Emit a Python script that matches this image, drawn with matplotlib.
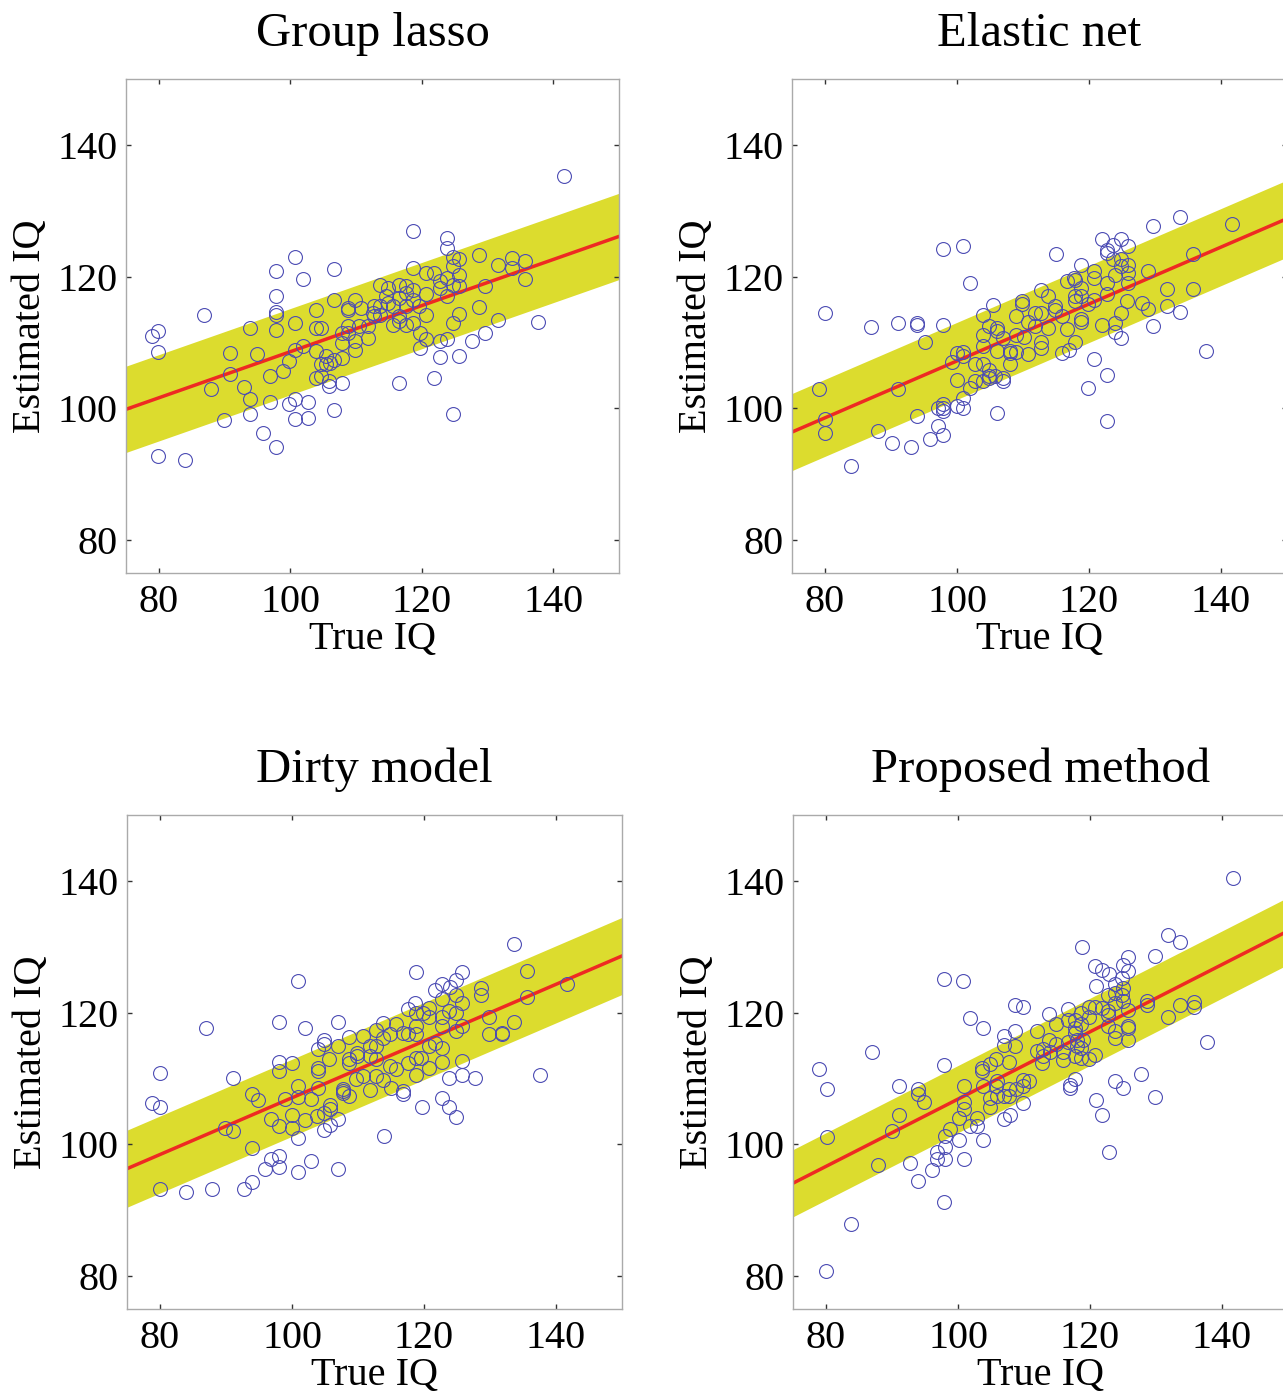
import matplotlib
matplotlib.use("Agg")
import matplotlib.pyplot as plt
import numpy as np

plt.rcParams['font.family'] = ['Liberation Serif', 'DejaVu Serif']

titles = ["Group lasso", "Elastic net", "Dirty model", "Proposed method"]

# regression line value at x=75 and x=150, band half width
line_start = [99.85, 96.4, 96.3, 94.1]
line_end = [126.1, 128.8, 128.6, 132.4]
band_half = [6.55, 5.85, 5.85, 5.1]

# --- Group lasso ---
gl_x = [141.6, 118.6, 123.8, 123.8, 124.7, 125.6, 128.7, 133.7, 135.7, 131.6, 133.7, 135.7, 137.7, 131.6,
        129.6, 127.6, 129.6, 128.7, 125.6, 124.7, 123.8, 122.7, 122.7, 125.6, 121.8, 124.7, 116.6, 119.8,
        120.6, 119.8, 120.6, 120.6, 118.6, 120.6, 121.8, 122.7, 123.8, 124.7, 125.6, 124.7, 125.6, 122.7,
        123.8, 116.6, 117.6, 118.6, 117.6, 116.6, 118.6, 117.6, 115.6, 116.6, 118.6, 117.6, 115.6, 116.6,
        119.6, 113.7, 114.8, 114.6, 114.8, 113.7, 112.8, 112.6, 113.6, 112.8, 111.8, 111.8, 109.8, 108.8,
        108.8, 110.8, 110.5, 108.8, 108.8, 107.8, 109.8, 109.8, 107.8, 107.8, 106.7, 106.7, 106.7, 106.7,
        107.9, 105.9, 105.9, 104.7, 103.9, 103.9, 103.9, 103.9, 104.7, 104.7, 105.5, 106.0, 105.5, 101.9,
        100.7, 97.8, 97.8, 97.8, 97.8, 97.8, 100.7, 101.9, 100.7, 99.8, 98.9, 96.9, 100.7, 99.8, 102.7,
        100.7, 102.7, 96.9, 97.8, 95.8, 94.9, 93.9, 90.8, 90.8, 92.9, 93.9, 93.9, 89.9, 87.9, 86.8, 79.0,
        79.9, 79.9, 79.9, 83.9]
gl_y = [135.2, 126.9, 125.8, 124.3, 122.9, 122.7, 123.3, 122.8, 122.3, 121.7, 121.3, 119.7, 113.1, 113.4,
        111.4, 110.2, 118.5, 115.4, 114.3, 113.0, 110.5, 110.2, 107.8, 108.0, 104.6, 99.2, 103.8, 109.1,
        110.5, 111.5, 114.1, 117.3, 121.3, 120.6, 120.6, 119.3, 119.8, 118.8, 120.3, 121.6, 118.5, 118.3,
        117.0, 118.8, 118.6, 118.0, 117.5, 116.8, 116.5, 115.5, 115.5, 114.0, 113.0, 112.7, 112.7, 113.2,
        115.5, 118.8, 118.3, 117.0, 116.0, 115.5, 115.5, 114.5, 114.2, 114.0, 112.5, 110.7, 116.5, 115.0,
        115.3, 115.3, 112.5, 112.5, 111.5, 111.5, 110.2, 108.9, 109.9, 107.7, 107.4, 116.5, 121.1, 99.8,
        103.8, 103.4, 104.1, 112.2, 112.2, 115.0, 108.7, 104.6, 104.9, 106.7, 107.9, 106.9, 106.7, 119.7,
        123.0, 120.8, 117.0, 114.7, 114.1, 111.9, 113.0, 109.4, 108.9, 107.2, 105.6, 104.9, 101.4, 100.6,
        100.9, 98.4, 98.6, 100.9, 94.2, 96.2, 108.2, 112.2, 108.4, 105.2, 103.3, 101.4, 99.1, 98.2, 102.9,
        114.1, 111.0, 111.8, 108.5, 92.8, 92.1]

# --- Elastic net ---
en_x = [80.0, 79.1, 80.0, 80.0, 84.0, 87.0, 88.1, 90.1, 91.0, 91.0, 93.0, 93.9, 93.9, 93.9, 95.1, 95.9,
        97.1, 97.1, 97.9, 97.9, 97.9, 97.9, 97.9, 97.9, 100.0, 100.9, 100.9, 100.0, 99.2, 100.0, 100.9,
        100.9, 100.9, 102.0, 102.0, 102.8, 102.8, 104.0, 104.0, 104.9, 104.9, 104.9, 105.8, 106.9, 106.9,
        106.0, 104.0, 104.0, 104.0, 104.9, 106.0, 106.0, 106.9, 106.0, 108.0, 108.0, 108.0, 108.9, 108.9,
        110.1, 110.8, 105.5, 108.9, 109.8, 109.8, 110.8, 111.8, 111.8, 112.8, 112.8, 113.8, 112.8, 112.8,
        113.8, 114.8, 114.8, 115.9, 115.9, 116.9, 116.6, 115.0, 116.6, 117.8, 117.9, 117.9, 117.9, 118.8,
        118.8, 118.8, 118.8, 119.8, 117.9, 120.8, 120.8, 120.8, 120.8, 118.8, 121.9, 122.7, 123.7, 124.8,
        122.7, 123.7, 124.8, 124.8, 125.9, 125.9, 125.9, 123.9, 122.7, 122.7, 125.7, 124.8, 123.9, 123.9,
        124.8, 121.9, 119.8, 122.7, 122.7, 125.9, 128.0, 129.0, 129.0, 129.7, 129.7, 131.8, 131.8, 133.8,
        133.8, 135.8, 135.8, 137.8, 141.6]
en_y = [114.5, 102.9, 98.4, 96.2, 91.2, 112.3, 96.6, 94.8, 113.0, 102.9, 94.2, 113.0, 112.7, 98.8, 110.1,
        95.3, 97.3, 100.1, 95.9, 124.2, 112.6, 100.6, 99.6, 100.1, 100.4, 100.1, 101.6, 104.3, 107.1, 108.4,
        108.5, 107.9, 124.6, 119.0, 103.1, 104.1, 106.7, 106.7, 104.1, 105.8, 104.9, 104.6, 104.9, 104.6,
        104.1, 99.3, 114.1, 111.2, 109.4, 112.5, 111.7, 112.2, 110.7, 108.7, 108.7, 108.4, 106.7, 108.5,
        111.2, 110.9, 108.3, 115.7, 114.0, 116.3, 115.8, 113.1, 114.4, 112.5, 118.0, 114.5, 117.1, 110.1,
        109.2, 112.2, 115.5, 115.0, 114.0, 108.4, 108.9, 112.1, 123.5, 119.4, 119.8, 119.5, 117.0, 116.3,
        118.3, 117.0, 113.5, 113.1, 115.8, 110.0, 120.8, 119.8, 116.5, 107.5, 121.7, 125.7, 124.1, 124.8,
        125.7, 123.6, 122.6, 122.6, 121.6, 121.8, 120.6, 119.0, 120.3, 119.0, 117.3, 116.3, 114.4, 113.0,
        111.6, 110.7, 112.7, 103.1, 105.1, 98.1, 124.6, 116.0, 120.8, 115.1, 127.7, 112.5, 118.1, 115.6,
        129.1, 114.7, 123.5, 118.1, 108.7, 128.0]

# --- Dirty model ---
dm_x = [133.6, 135.6, 135.6, 141.6, 128.7, 128.7, 129.8, 129.8, 131.8, 131.8, 133.6, 137.6, 118.8, 125.8,
        124.9, 122.8, 121.7, 123.9, 124.9, 122.8, 125.8, 123.8, 124.9, 122.8, 122.8, 125.8, 124.9, 118.6,
        117.5, 118.8, 119.8, 120.8, 120.8, 118.8, 116.8, 117.5, 118.8, 115.8, 113.8, 114.8, 113.8, 112.8,
        121.6, 120.8, 122.8, 119.6, 118.8, 120.8, 122.8, 125.8, 123.8, 125.8, 127.8, 117.5, 118.8, 115.8,
        114.8, 113.8, 115.0, 116.8, 116.8, 112.8, 112.8, 112.8, 122.8, 123.8, 124.9, 119.7, 113.9, 110.7,
        111.8, 111.8, 109.8, 109.8, 108.7, 108.7, 108.7, 110.7, 109.7, 111.8, 108.7, 107.8, 107.8, 107.8,
        106.9, 106.9, 105.6, 104.9, 104.9, 103.9, 103.9, 103.9, 103.9, 102.9, 100.9, 100.9, 101.9, 100.9,
        98.0, 98.0, 98.0, 100.0, 105.8, 105.8, 104.8, 105.8, 104.9, 106.9, 103.8, 101.9, 100.0, 98.9, 96.8,
        98.0, 100.0, 100.9, 94.0, 94.8, 91.0, 89.9, 91.0, 94.0, 98.0, 96.8, 95.9, 98.0, 100.9, 102.9, 106.9,
        94.0, 92.8, 87.9, 83.9, 80.0, 80.0, 78.8, 80.0, 87.0]
dm_y = [130.4, 126.3, 122.4, 124.4, 123.7, 122.6, 119.3, 116.7, 116.9, 116.7, 118.5, 110.5, 126.2, 126.2,
        125.0, 124.4, 123.5, 123.9, 122.7, 122.0, 121.5, 120.2, 120.0, 119.4, 117.9, 117.9, 117.2, 121.5,
        120.5, 120.0, 120.0, 120.7, 119.4, 118.0, 116.9, 116.7, 116.7, 118.2, 118.4, 116.7, 116.2, 117.4,
        115.4, 114.9, 114.6, 113.1, 113.1, 111.6, 112.5, 112.6, 110.0, 110.5, 110.0, 112.4, 110.5, 111.4,
        111.9, 109.8, 108.6, 108.1, 107.6, 110.3, 114.9, 112.9, 107.1, 105.7, 104.2, 105.7, 101.3, 116.4,
        114.9, 113.4, 113.9, 113.4, 116.3, 112.9, 112.4, 110.4, 109.9, 108.2, 107.3, 108.1, 107.8, 108.4,
        118.5, 114.9, 112.9, 115.9, 115.2, 114.4, 111.6, 111.1, 108.6, 106.9, 108.9, 107.2, 117.7, 124.8,
        118.5, 112.5, 111.1, 112.4, 106.0, 105.3, 104.8, 102.9, 102.2, 103.9, 104.3, 103.7, 104.5, 106.9,
        103.8, 102.8, 102.5, 101.0, 107.6, 106.7, 110.0, 102.5, 102.1, 99.5, 98.3, 97.7, 96.3, 96.6, 95.8,
        97.4, 96.3, 94.3, 93.2, 93.2, 92.8, 93.2, 110.9, 106.2, 105.7, 117.7]

# --- Proposed method ---
pm_x = [141.6, 131.8, 133.6, 129.9, 118.8, 125.8, 125.0, 125.8, 124.8, 120.8, 121.8, 122.9, 120.9, 123.8,
        125.0, 124.8, 123.8, 122.8, 123.8, 125.0, 128.7, 128.7, 133.6, 135.7, 135.7, 131.8, 137.7, 127.8,
        129.9, 125.8, 125.8, 125.8, 125.8, 123.8, 123.8, 122.8, 122.8, 122.8, 121.8, 120.8, 119.8, 118.7,
        119.8, 118.7, 117.7, 116.7, 116.7, 117.7, 117.7, 119.0, 118.0, 116.7, 118.0, 118.7, 117.7, 118.7,
        119.8, 120.8, 123.8, 125.0, 120.9, 121.8, 122.9, 117.7, 116.9, 116.9, 113.8, 114.8, 113.8, 114.9,
        115.9, 115.9, 112.9, 112.9, 111.9, 111.9, 113.9, 112.8, 108.7, 109.9, 108.7, 106.9, 106.9, 108.7,
        107.8, 105.8, 104.8, 103.7, 103.7, 105.9, 105.8, 109.9, 110.8, 109.8, 108.8, 107.8, 107.8, 106.9,
        105.9, 104.9, 104.9, 109.9, 107.9, 106.9, 103.8, 97.9, 100.8, 101.8, 103.8, 97.9, 100.9, 100.9,
        100.9, 100.1, 101.8, 102.9, 102.9, 98.8, 98.0, 100.1, 103.8, 98.0, 96.8, 96.8, 98.0, 100.9, 96.0,
        94.0, 92.8, 97.9, 83.8, 94.0, 94.0, 94.9, 91.0, 91.0, 90.0, 87.9, 87.0, 79.0, 80.1, 80.1, 80.0]
pm_y = [140.5, 131.8, 130.7, 128.6, 129.9, 128.4, 127.3, 126.3, 125.3, 127.0, 126.4, 125.9, 124.1, 124.4,
        123.7, 122.7, 123.0, 122.7, 121.5, 121.7, 121.7, 121.2, 121.2, 121.6, 120.9, 119.4, 115.6, 110.7,
        107.2, 120.4, 117.9, 117.7, 115.9, 117.2, 116.2, 120.2, 119.7, 117.9, 120.7, 120.9, 120.9, 119.9,
        119.4, 118.2, 118.9, 118.9, 120.5, 117.7, 116.9, 115.9, 115.9, 115.6, 114.9, 114.6, 113.4, 113.1,
        112.9, 113.6, 109.6, 108.6, 106.7, 104.4, 98.8, 109.9, 109.0, 108.6, 119.8, 118.2, 115.9, 115.2,
        114.0, 112.8, 114.4, 113.4, 114.1, 117.2, 114.0, 112.3, 121.2, 120.9, 117.2, 116.5, 115.1, 115.0,
        112.5, 112.9, 112.2, 111.6, 111.2, 109.6, 108.9, 109.8, 109.6, 108.8, 108.4, 108.4, 107.3, 107.3,
        107.4, 107.1, 105.6, 106.2, 104.4, 103.9, 108.8, 125.1, 124.8, 119.2, 117.7, 112.1, 108.9, 106.4,
        105.3, 104.0, 102.8, 102.8, 104.0, 102.3, 101.3, 100.6, 100.6, 99.6, 98.8, 97.7, 97.7, 97.7, 96.1,
        94.5, 97.2, 91.3, 87.9, 108.4, 107.6, 106.4, 108.9, 104.4, 102.0, 96.8, 114.0, 111.4, 108.4, 101.1,
        80.8]

xs_all = [gl_x, en_x, dm_x, pm_x]
ys_all = [gl_y, en_y, dm_y, pm_y]

W, H = 1283, 1397
fig = plt.figure(figsize=(W / 100, H / 100), dpi=100)

# axes boxes in pixels: left, top, right, bottom
boxes = [(126, 79, 619, 573), (792, 79, 1287, 573),
         (127, 815, 622, 1309), (793, 815, 1288, 1309)]

for i in range(4):
    l, t, r, b = boxes[i]
    ax = fig.add_axes([l / W, 1 - b / H, (r - l) / W, (b - t) / H])
    xl = np.array([75, 150])
    yl = np.array([line_start[i], line_end[i]])
    ax.fill_between(xl, yl - band_half[i], yl + band_half[i], color='#dcdc2e', lw=0, zorder=1)
    ax.plot(xl, yl, color='#ee2a22', lw=2.5, zorder=2)
    ax.plot(xs_all[i], ys_all[i], 'o', ms=10, mfc='none', mec='#4c4cb4', mew=0.8, zorder=3)
    ax.set_xlim(75, 150)
    ax.set_ylim(75, 150)
    ax.set_xticks([80, 100, 120, 140])
    ax.set_yticks([80, 100, 120, 140])
    ax.tick_params(direction='in', length=3.5, width=1, top=True, right=True,
                   labelsize=29, pad=6, color='#333333')
    ax.tick_params(axis='x', pad=8)
    for s in ax.spines.values():
        s.set_color('#aaaaaa')
        s.set_linewidth(1)
    ax.set_title(titles[i], fontsize=35, pad=24)
    ax.set_xlabel("True IQ", fontsize=29, labelpad=0)
    ax.set_ylabel("Estimated IQ", fontsize=29, labelpad=6)

fig.savefig("out.png", dpi=100)
